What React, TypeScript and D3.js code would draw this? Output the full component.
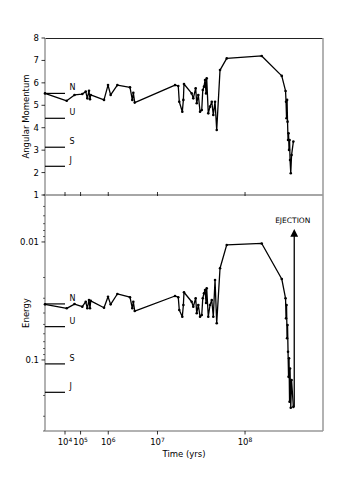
import React, { useEffect, useRef } from "react";
import * as d3 from "d3";

// time in years
const timeYrs = [
  0, 1.39e4, 4.73e4, 1.21e5, 1.72e5, 2.0e5, 2.34e5, 2.56e5, 2.73e5, 7.57e5,
  9.85e5, 1.16e6, 1.71e6, 3.26e6, 3.63e6, 3.8e6, 4.05e6, 1.785e7, 1.97e7, 2.03e7,
  2.22e7, 2.29e7, 2.33e7, 2.89e7, 3.02e7, 3.22e7, 3.31e7, 3.45e7, 3.61e7, 3.77e7,
  3.87e7, 3.99e7, 4.1e7, 4.2e7, 4.27e7, 4.44e7, 4.63e7, 4.83e7, 5.01e7, 5.22e7,
  5.43e7, 5.86e7, 6.81e7, 1.378e8, 1.962e8, 2.091e8, 2.108e8, 2.126e8, 2.144e8, 2.161e8,
  2.179e8, 2.197e8, 2.215e8, 2.234e8, 2.252e8, 2.278e8, 2.308e8, 2.376e8,
];
const angMom = [
  5.53, 5.2, 5.46, 5.5, 5.61, 5.31, 5.65, 5.27, 5.46, 5.24,
  5.9, 5.46, 5.9, 5.8, 5.24, 5.56, 5.12, 5.9, 5.86, 5.16,
  4.71, 5.24, 5.95, 5.53, 5.31, 5.76, 5.09, 5.46, 4.71, 4.79,
  5.68, 5.83, 6.13, 5.53, 6.2, 4.64, 4.94, 5.16, 4.57, 5.16,
  3.9, 6.57, 7.09, 7.2, 6.31, 5.64, 5.16, 4.42, 5.24, 4.27,
  3.45, 3.75, 3.01, 3.45, 2.56, 1.97, 2.78, 3.38,
];
const energy = [
  0.0338, 0.0365, 0.0336, 0.0354, 0.0321, 0.0365, 0.031, 0.0365, 0.0316, 0.0361,
  0.0291, 0.0338, 0.0276, 0.0294, 0.0365, 0.0321, 0.0385, 0.0287, 0.0294, 0.0377,
  0.043, 0.0342, 0.0267, 0.0321, 0.0354, 0.03, 0.0402, 0.0342, 0.043, 0.0416,
  0.03, 0.0272, 0.0255, 0.0329, 0.0247, 0.043, 0.0342, 0.031, 0.043, 0.021,
  0.0489, 0.0167, 0.0106, 0.0103, 0.0206, 0.03, 0.0444, 0.0342, 0.0655, 0.0506,
  0.0851, 0.139, 0.0968, 0.226, 0.118, 0.254, 0.148, 0.25,
];

// planet reference levels
const planetNames = ["N", "U", "S", "J"];
const planetL = [5.53, 4.42, 3.13, 2.28];
const planetE = [0.0335, 0.0522, 0.108, 0.188];
const planetLineEnd = 1e4;

const ejectionTime = 2.41e8;
const ejectionTop = 0.0079;

const xTicks = [1e4, 1e5, 1e6, 1e7, 1e8];
const xTickExp = ["4", "5", "6", "7", "8"];
const lTicks = [1, 2, 3, 4, 5, 6, 7, 8];
const eMajor = [0.01, 0.1];
const eMinor = [0.004, 0.005, 0.006, 0.007, 0.008, 0.009, 0.02, 0.03, 0.04, 0.05, 0.06, 0.07, 0.08, 0.09, 0.2, 0.3, 0.4];

const W = 360;
const H = 480;
const FONT = "DejaVu Sans, sans-serif";

const App = () => {
  const svgRef = useRef<SVGSVGElement>(null);

  useEffect(() => {
    const svg = d3.select(svgRef.current);
    svg.selectAll("*").remove();

    const left = 45, right = 323, top = 38, mid = 195, bottom = 431;

    const x = d3.scalePow().exponent(0.25).domain([0, 3.73e8]).range([left, right]);
    const yL = d3.scaleLinear().domain([1, 8]).range([mid, top]);
    const yE = d3.scaleLog().domain([0.004, 0.4]).range([mid, bottom]);

    svg.append("rect").attr("width", W).attr("height", H).attr("fill", "white");

    const defs = svg.append("defs");
    defs.append("marker")
      .attr("id", "arrowhead")
      .attr("viewBox", "0 0 10 10")
      .attr("refX", 5).attr("refY", 5)
      .attr("markerWidth", 6).attr("markerHeight", 6)
      .attr("orient", "auto")
      .append("path")
      .attr("d", "M0,0 L10,5 L0,10 z")
      .attr("fill", "black");

    // frames (gray sides, dark top)
    const spine = "#999";
    svg.append("line").attr("x1", left).attr("x2", right).attr("y1", top + 0.5).attr("y2", top + 0.5).attr("stroke", "#222");
    svg.append("line").attr("x1", left).attr("x2", right).attr("y1", mid).attr("y2", mid).attr("stroke", "#888").attr("stroke-width", 1.3);
    svg.append("line").attr("x1", left).attr("x2", right).attr("y1", bottom).attr("y2", bottom).attr("stroke", spine).attr("stroke-width", 1.5);
    svg.append("line").attr("x1", left).attr("x2", left).attr("y1", top).attr("y2", bottom).attr("stroke", spine).attr("stroke-width", 1.5);
    svg.append("line").attr("x1", right).attr("x2", right).attr("y1", top).attr("y2", bottom).attr("stroke", spine).attr("stroke-width", 1.5);

    // angular momentum y ticks
    lTicks.forEach((v) => {
      svg.append("line").attr("x1", left - 3.5).attr("x2", left).attr("y1", yL(v)).attr("y2", yL(v)).attr("stroke", "black").attr("stroke-width", 0.8);
      svg.append("text").attr("x", left - 6).attr("y", yL(v)).attr("dy", "0.35em")
        .attr("text-anchor", "end").style("font-family", FONT).style("font-size", "8.5px").text(String(v));
    });

    // energy y ticks
    eMajor.forEach((v) => {
      svg.append("line").attr("x1", left - 3.5).attr("x2", left).attr("y1", yE(v)).attr("y2", yE(v)).attr("stroke", "black").attr("stroke-width", 0.8);
      svg.append("text").attr("x", left - 6).attr("y", yE(v)).attr("dy", "0.35em")
        .attr("text-anchor", "end").style("font-family", FONT).style("font-size", "8.5px").text(String(v));
    });
    eMinor.forEach((v) => {
      svg.append("line").attr("x1", left - 2).attr("x2", left).attr("y1", yE(v)).attr("y2", yE(v)).attr("stroke", "black").attr("stroke-width", 0.6);
    });

    // x ticks
    xTicks.forEach((t, i) => {
      svg.append("line").attr("x1", x(t)).attr("x2", x(t)).attr("y1", mid - 3).attr("y2", mid + 1).attr("stroke", "black").attr("stroke-width", 0.8);
      svg.append("line").attr("x1", x(t)).attr("x2", x(t)).attr("y1", bottom).attr("y2", bottom + 3.5).attr("stroke", "black").attr("stroke-width", 0.8);
      const lab = svg.append("text").attr("x", x(t)).attr("y", bottom + 14)
        .attr("text-anchor", "middle").style("font-family", FONT).style("font-size", "8.5px");
      lab.append("tspan").text("10");
      lab.append("tspan").attr("dy", "-3.5").style("font-size", "6px").text(xTickExp[i]);
    });

    // axis labels
    svg.append("text").attr("x", (left + right) / 2).attr("y", bottom + 26)
      .attr("text-anchor", "middle").style("font-family", FONT).style("font-size", "8.5px").text("Time (yrs)");
    svg.append("text").attr("transform", `translate(29,${(top + mid) / 2}) rotate(-90)`)
      .attr("text-anchor", "middle").style("font-family", FONT).style("font-size", "8.5px").text("Angular Momentum");
    svg.append("text").attr("transform", `translate(29,${(mid + bottom) / 2}) rotate(-90)`)
      .attr("text-anchor", "middle").style("font-family", FONT).style("font-size", "8.5px").text("Energy");

    // planet reference lines
    planetNames.forEach((name, i) => {
      svg.append("line").attr("x1", x(0)).attr("x2", x(planetLineEnd)).attr("y1", yL(planetL[i])).attr("y2", yL(planetL[i]))
        .attr("stroke", "black").attr("stroke-width", 1.2);
      svg.append("text").attr("x", x(planetLineEnd) + 4.5).attr("y", yL(planetL[i]) - 3)
        .style("font-family", FONT).style("font-size", "8px").text(name);
      svg.append("line").attr("x1", x(0)).attr("x2", x(planetLineEnd)).attr("y1", yE(planetE[i])).attr("y2", yE(planetE[i]))
        .attr("stroke", "black").attr("stroke-width", 1.2);
      svg.append("text").attr("x", x(planetLineEnd) + 4.5).attr("y", yE(planetE[i]) - 3)
        .style("font-family", FONT).style("font-size", "8px").text(name);
    });

    const idx = d3.range(timeYrs.length);

    const lineL = d3.line<number>().x((i) => x(timeYrs[i])).y((i) => yL(angMom[i]));
    const lineE = d3.line<number>().x((i) => x(timeYrs[i])).y((i) => yE(energy[i]));

    svg.append("path").attr("d", lineL(idx)).attr("fill", "none").attr("stroke", "black").attr("stroke-width", 1.3).attr("stroke-linejoin", "round");
    svg.append("path").attr("d", lineE(idx)).attr("fill", "none").attr("stroke", "black").attr("stroke-width", 1.3).attr("stroke-linejoin", "round");

    svg.append("g").selectAll("circle").data(idx).enter().append("circle")
      .attr("cx", (i) => x(timeYrs[i])).attr("cy", (i) => yL(angMom[i])).attr("r", 1.3).attr("fill", "black");
    svg.append("g").selectAll("circle").data(idx).enter().append("circle")
      .attr("cx", (i) => x(timeYrs[i])).attr("cy", (i) => yE(energy[i])).attr("r", 1.3).attr("fill", "black");

    // ejection arrow
    const last = timeYrs.length - 1;
    svg.append("line")
      .attr("x1", x(ejectionTime)).attr("x2", x(ejectionTime))
      .attr("y1", yE(energy[last])).attr("y2", yE(ejectionTop) + 3)
      .attr("stroke", "black").attr("stroke-width", 1.3)
      .attr("marker-end", "url(#arrowhead)");
    svg.append("text").attr("x", x(ejectionTime) - 1.5).attr("y", yE(ejectionTop) - 7)
      .attr("text-anchor", "middle").style("font-family", FONT).style("font-size", "7.5px").attr("fill", "black").text("EJECTION");
  }, []);

  return (
    <svg ref={svgRef} width={W} height={H} style={{ position: "absolute", left: 0, top: 0 }} />
  );
};

export default App;
